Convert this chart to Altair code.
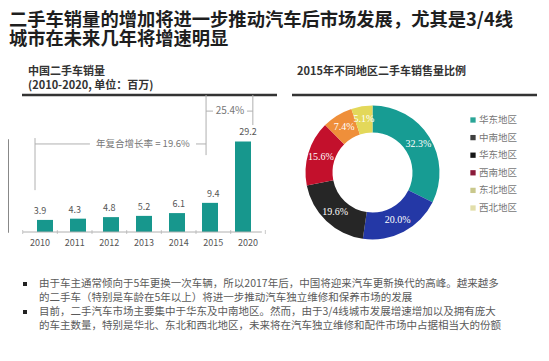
import altair as alt
import pandas as pd

FONT = "Noto Sans CJK SC"

# ---------------- data ----------------
title_lines = ["二手车销量的增加将进一步推动汽车后市场发展，尤其是3/4线",
               "城市在未来几年将增速明显"]
bar_title = ["中国二手车销量", "(2010-2020, 单位：百万)"]
donut_title = "2015年不同地区二手车销售量比例"

years = ["2010", "2011", "2012", "2013", "2014", "2015", "2020"]
sales = [3.9, 4.3, 4.8, 5.2, 6.1, 9.4, 29.2]
cagr_label = "年复合增长率 = 19.6%"
growth_label = "25.4%"

regions = ["华东地区", "中南地区", "华北地区", "西南地区", "东北地区", "西北地区"]
shares = [32.3, 20.0, 19.6, 15.6, 7.4, 5.1]
share_labels = ["32.3%", "20.0%", "19.6%", "15.6%", "7.4%", "5.1%"]
slice_colors = ["#179c93", "#2438a6", "#262626", "#c3102c", "#ef8f3a", "#e3d85a"]

legend_labels = ["华东地区", "中南地区", "华东地区", "西南地区", "东北地区", "西北地区"]
legend_colors = ["#2aa597", "#404040", "#161616", "#8a1a3a", "#c9c88c", "#e2deaa"]

bullet_lines = [
    "由于车主通常倾向于5年更换一次车辆，所以2017年后，中国将迎来汽车更新换代的高峰。越来越多",
    "的二手车（特别是车龄在5年以上）将进一步推动汽车独立维修和保养市场的发展",
    "目前，二手汽车市场主要集中于华东及中南地区。然而，由于3/4线城市发展增速增加以及拥有庞大",
    "的车主数量，特别是华北、东北和西北地区，未来将在汽车独立维修和配件市场中占据相当大的份额",
]
bullet_starts = [0, 2]

TEAL = "#17978d"
GREY_LINE = "#b0b0b0"
layers = []


def text_layer(text, x, y, size, color="#222", weight="normal", align="left", font=FONT):
    return alt.Chart(pd.DataFrame({"t": [text]})).mark_text(
        align=align, baseline="middle", font=font, fontSize=size,
        fontWeight=weight, color=color
    ).encode(text="t:N", x=alt.value(x), y=alt.value(y))


# ---------------- titles ----------------
layers.append(text_layer(title_lines[0], 1, 12.5, 18.3, "#1e1e1e", "bold"))
layers.append(text_layer(title_lines[1], 1, 31.5, 18.3, "#1e1e1e", "bold"))
layers.append(text_layer(bar_title[0], 20, 64, 11, "#333", "bold"))
layers.append(text_layer(bar_title[1], 20, 77.5, 11, "#333", "bold"))
layers.append(text_layer(donut_title, 289, 64, 11, "#333", "bold"))

for x1, x2 in [(14, 269), (284, 529)]:
    layers.append(alt.Chart(pd.DataFrame({"a": [0]})).mark_rule(
        color="#333", strokeWidth=2.5
    ).encode(x=alt.value(x1), x2=alt.value(x2), y=alt.value(87)))

# ---------------- bar chart ----------------
xs = alt.Scale(domain=[0, 6], range=[32, 240])
ys = alt.Scale(domain=[0, 30], range=[224, 131])

bars_df = pd.DataFrame({"year": years, "idx": list(range(len(years))), "sales": sales})

layers.append(alt.Chart(bars_df).mark_bar(size=16, color=TEAL).encode(
    x=alt.X("idx:Q", scale=xs, axis=None),
    y=alt.Y("sales:Q", scale=ys, axis=None),
))
layers.append(alt.Chart(bars_df).mark_text(
    font=FONT, fontSize=9, color="#555", baseline="bottom", dy=-4
).encode(
    x=alt.X("idx:Q", scale=xs, axis=None),
    y=alt.Y("sales:Q", scale=ys, axis=None),
    text="sales:N",
))
layers.append(alt.Chart(bars_df).mark_text(
    font=FONT, fontSize=9, color="#555", baseline="middle", dy=11
).encode(
    x=alt.X("idx:Q", scale=xs, axis=None),
    y=alt.datum(0, scale=ys),
    text="year:N",
))

# baseline and small ticks between bars
base_df = pd.DataFrame({"x": [-0.49], "x2": [6.4], "y": [0]})
layers.append(alt.Chart(base_df).mark_rule(color=GREY_LINE, strokeWidth=1).encode(
    x=alt.X("x:Q", scale=xs, axis=None), x2="x2:Q",
    y=alt.Y("y:Q", scale=ys, axis=None),
))
tick_df = pd.DataFrame({"x": [i - 0.5 for i in range(len(years) + 1)], "y": [0] * (len(years) + 1)})
layers.append(alt.Chart(tick_df).mark_tick(color=GREY_LINE, orient="vertical", size=4, thickness=1).encode(
    x=alt.X("x:Q", scale=xs, axis=None),
    y=alt.Y("y:Q", scale=ys, axis=None),
))

# growth brackets (in data units of the bar chart)
seg_df = pd.DataFrame({
    "x":  [-0.144, -0.144, 4.50, 4.79, 4.79, 5.97, 6.14],
    "x2": [-0.144, 1.44, 4.79, 4.79, 4.99, 6.14, 6.14],
    "y":  [30.3, 28.4, 28.4, 44.2, 39.0, 39.0, 44.2],
    "y2": [13.5, 28.4, 28.4, 24.8, 39.0, 39.0, 34.5],
})
layers.append(alt.Chart(seg_df).mark_rule(color=GREY_LINE, strokeWidth=1).encode(
    x=alt.X("x:Q", scale=xs, axis=None), x2="x2:Q",
    y=alt.Y("y:Q", scale=ys, axis=None), y2="y2:Q",
))
ann_df = pd.DataFrame({"x": [2.97, 5.48], "y": [28.4, 39.0], "t": [cagr_label, growth_label],
                       "s": [9.5, 10]})
layers.append(alt.Chart(ann_df).mark_text(font=FONT, color="#777", baseline="middle").encode(
    x=alt.X("x:Q", scale=xs, axis=None),
    y=alt.Y("y:Q", scale=ys, axis=None),
    text="t:N",
    size=alt.Size("s:Q", scale=None, legend=None),
))

# ---------------- donut ----------------
donut_df = pd.DataFrame({"region": regions, "share": shares, "label": share_labels,
                         "idx": list(range(len(regions)))})
CX, CY = 364.5, 164.5
layers.append(alt.Chart(donut_df).mark_arc(outerRadius=67, innerRadius=40).encode(
    theta=alt.Theta("share:Q", stack=True),
    color=alt.Color("region:N", scale=alt.Scale(domain=regions, range=slice_colors), legend=None),
    order=alt.Order("idx:Q"),
    x=alt.value(CX), y=alt.value(CY),
))
layers.append(alt.Chart(donut_df).mark_text(
    radius=54, font="Liberation Serif", fontSize=10, color="white", baseline="middle"
).encode(
    theta=alt.Theta("share:Q", stack=True),
    order=alt.Order("idx:Q"),
    text="label:N",
    x=alt.value(CX), y=alt.value(CY),
))

# custom legend (as drawn in the original)
leg_df = pd.DataFrame({"idx": list(range(len(legend_labels))), "label": legend_labels,
                       "key": [f"k{i}" for i in range(len(legend_labels))]})
leg_y = alt.Scale(domain=[0, 5], range=[112, 200])
layers.append(alt.Chart(leg_df).mark_square(size=28, opacity=1).encode(
    x=alt.value(465),
    y=alt.Y("idx:Q", scale=leg_y, axis=None),
    color=alt.Color("key:N", scale=alt.Scale(domain=leg_df["key"].tolist(), range=legend_colors), legend=None),
))
layers.append(alt.Chart(leg_df).mark_text(
    align="left", baseline="middle", font=FONT, fontSize=9.5, color="#777"
).encode(
    x=alt.value(471),
    y=alt.Y("idx:Q", scale=leg_y, axis=None),
    text="label:N",
))

# ---------------- bullets ----------------
b_df = pd.DataFrame({"line": list(range(len(bullet_lines))), "t": bullet_lines})
b_y = alt.Scale(domain=[0, 3], range=[276, 318])
layers.append(alt.Chart(b_df).mark_text(
    align="left", baseline="middle", font=FONT, fontSize=10.5, color="#5a5a5a"
).encode(
    x=alt.value(31),
    y=alt.Y("line:Q", scale=b_y, axis=None),
    text="t:N",
))
layers.append(alt.Chart(pd.DataFrame({"line": bullet_starts})).mark_square(
    size=16, color="#222", opacity=1
).encode(
    x=alt.value(17),
    y=alt.Y("line:Q", scale=b_y, axis=None),
))

chart = alt.layer(*layers).resolve_scale(
    x="independent", y="independent", color="independent", size="independent"
).properties(
    width=533, height=345, autosize="none", padding=0, background="white"
).configure_view(stroke=None)

chart.save("out.html", embed_options={"renderer": "svg", "actions": False})
